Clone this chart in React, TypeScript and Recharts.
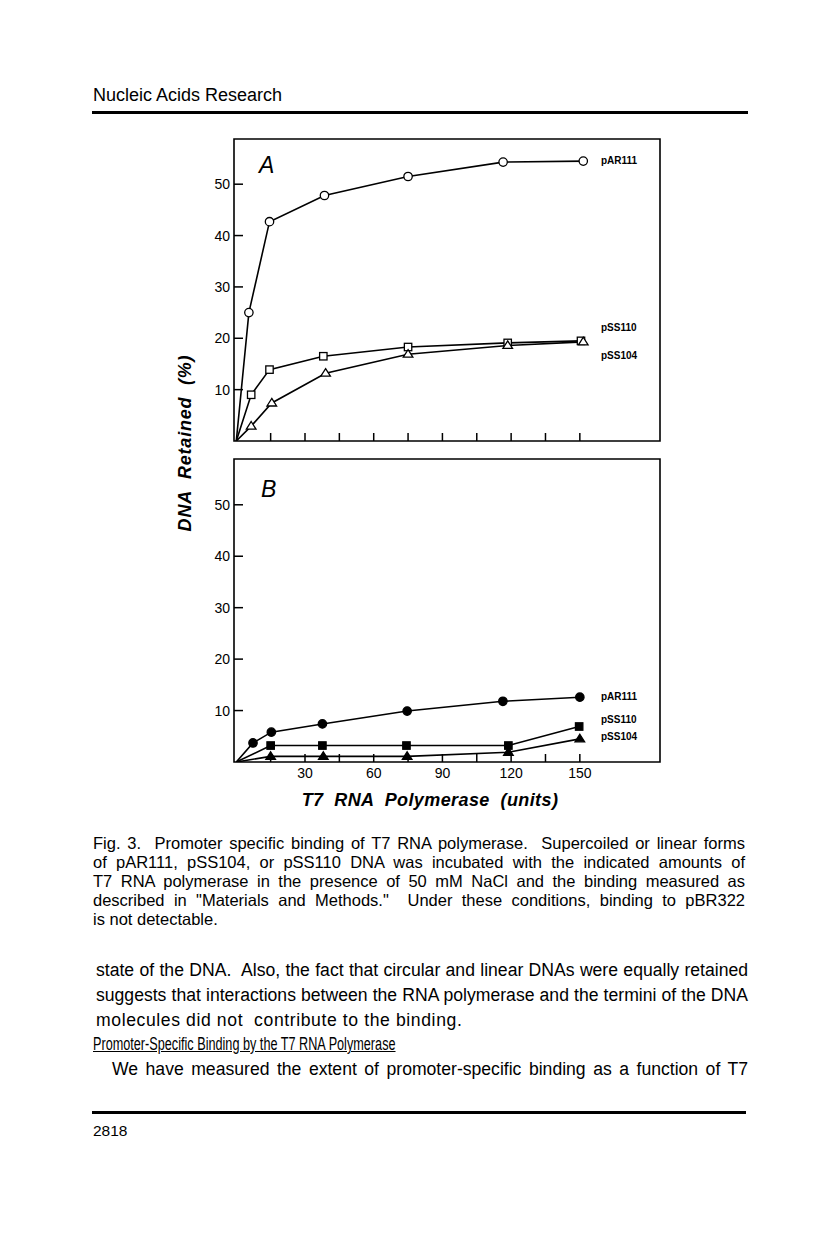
import React from "react";
import { LineChart, Line, XAxis, YAxis, ReferenceArea } from "recharts";

// Panel A: supercoiled DNA (open markers)
const aPAR111X = [0, 5.5, 14.5, 38.5, 75, 116.5, 151.5];
const aPAR111Y = [0, 25.0, 42.7, 47.8, 51.5, 54.3, 54.5];
const aPSS110X = [0, 6.5, 14.5, 38, 75, 118.5, 150.5];
const aPSS110Y = [0, 9.0, 13.9, 16.5, 18.3, 19.1, 19.5];
const aPSS104X = [0, 6.5, 15.5, 39, 75, 118.5, 151.5];
const aPSS104Y = [0, 2.9, 7.4, 13.2, 16.9, 18.6, 19.3];

// Panel B: linear DNA (filled markers)
const bPAR111X = [0, 7.3, 15.3, 37.6, 74.6, 116.4, 150];
const bPAR111Y = [0, 3.7, 5.8, 7.4, 9.9, 11.8, 12.6];
const bPSS110X = [0, 15, 37.6, 74.3, 118.8, 149.7];
const bPSS110Y = [0, 3.2, 3.2, 3.2, 3.2, 6.9];
const bPSS104X = [0, 15, 38, 74.6, 118.8, 150];
const bPSS104Y = [0, 1.1, 1.1, 1.1, 1.9, 4.5];

const xTicks = [15, 30, 45, 60, 75, 90, 105, 120, 135, 150];
const yTicks = [10, 20, 30, 40, 50];
const seriesNames = ["pAR111", "pSS110", "pSS104"];

const captionLines = [
  "Fig. 3.\u00a0 Promoter specific binding of T7 RNA polymerase.\u00a0 Supercoiled or linear forms",
  "of pAR111, pSS104, or pSS110 DNA was incubated with the indicated amounts of",
  "T7 RNA polymerase in the presence of 50 mM NaCl and the binding measured as",
  "described in \"Materials and Methods.\"\u00a0 Under these conditions, binding to pBR322",
  "is not detectable.",
];

const FONT = '"Liberation Sans", Arial, Helvetica, sans-serif';

const rows = (xs: number[], ys: number[]) => xs.map((x, i) => ({ x, y: ys[i] }));

const marker = (shape: string, filled: boolean) => (p: any) => {
  const { cx, cy, index } = p;
  const key = `m-${shape}-${index}`;
  if (index === 0 || cx == null || cy == null) return <g key={key} />;
  const fill = filled ? "#000" : "#fff";
  if (shape === "circle")
    return <circle key={key} cx={cx} cy={cy} r={4.2} fill={fill} stroke="#000" strokeWidth={1.3} />;
  if (shape === "square")
    return (
      <rect key={key} x={cx - 3.7} y={cy - 3.7} width={7.4} height={7.4} fill={fill} stroke="#000" strokeWidth={1.3} />
    );
  return (
    <polygon
      key={key}
      points={`${cx},${cy - 4.6} ${cx + 4.8},${cy + 3} ${cx - 4.8},${cy + 3}`}
      fill={fill}
      stroke="#000"
      strokeWidth={1.3}
    />
  );
};

const xTick = (labelled: boolean) => (p: any) => {
  const { x, y, payload } = p;
  return (
    <g>
      <line x1={x} x2={x} y1={y} y2={y - 8} stroke="#000" strokeWidth={1.5} />
      {labelled && payload.value % 30 === 0 && (
        <text x={x} y={y + 16} textAnchor="middle" fontSize={14} fontFamily={FONT} fill="#000">
          {payload.value}
        </text>
      )}
    </g>
  );
};

const yTick = (p: any) => {
  const { x, y, payload } = p;
  return (
    <g>
      <line x1={x} x2={x + 9} y1={y} y2={y} stroke="#000" strokeWidth={1.5} />
      <text x={x - 4} y={y + 5} textAnchor="end" fontSize={14} fontFamily={FONT} fill="#000">
        {payload.value}
      </text>
    </g>
  );
};

function Panel({
  top,
  height,
  margin,
  xHeight,
  yMax,
  labelled,
  filled,
  series,
}: {
  top: number;
  height: number;
  margin: any;
  xHeight: number;
  yMax: number;
  labelled: boolean;
  filled: boolean;
  series: { x: number[]; y: number[]; shape: string }[];
}) {
  return (
    <div style={{ position: "absolute", left: 0, top }}>
      <LineChart width={680} height={height} margin={margin}>
        <XAxis
          type="number"
          dataKey="x"
          domain={[-1, 185]}
          ticks={xTicks}
          height={xHeight}
          axisLine={false}
          tickLine={false}
          tickSize={0}
          tickMargin={0}
          tick={xTick(labelled)}
          interval={0}
          allowDataOverflow
        />
        <YAxis
          type="number"
          dataKey="y"
          domain={[0, yMax]}
          ticks={yTicks}
          width={60}
          axisLine={false}
          tickLine={false}
          tickSize={0}
          tickMargin={0}
          tick={yTick}
          interval={0}
          allowDataOverflow
        />
        <ReferenceArea x1={-1} x2={185} y1={0} y2={yMax} fill="none" stroke="#000" strokeWidth={1.6} />
        {series.map((s, i) => (
          <Line
            key={seriesNames[i]}
            name={seriesNames[i]}
            data={rows(s.x, s.y)}
            dataKey="y"
            type="linear"
            stroke="#000"
            strokeWidth={1.6}
            dot={marker(s.shape, filled)}
            activeDot={false}
            isAnimationActive={false}
          />
        ))}
      </LineChart>
    </div>
  );
}

const seriesLabel = (text: string, left: number, cy: number) => (
  <div
    key={`${text}-${cy}`}
    style={{
      position: "absolute",
      left,
      top: cy - 6,
      lineHeight: "12px",
      fontSize: 10,
      fontWeight: "bold",
      fontFamily: FONT,
    }}
  >
    {text}
  </div>
);

const abs = (top: number, left: number, extra: any = {}) => ({
  position: "absolute" as const,
  top,
  left,
  fontFamily: FONT,
  color: "#000",
  ...extra,
});

const bodyLine = { fontSize: 17.6, lineHeight: "24px" };

export default function App() {
  return (
    <div
      style={{
        position: "absolute",
        left: 0,
        top: 0,
        width: 816,
        height: 1236,
        background: "#fff",
        overflow: "hidden",
        fontFamily: FONT,
      }}
    >
      <div style={abs(84, 93, { fontSize: 18, lineHeight: "22px" })}>Nucleic Acids Research</div>
      <div style={abs(111, 92, { width: 656, height: 2.5, background: "#000" })} />

      <Panel
        top={120}
        height={330}
        margin={{ top: 19, right: 20, bottom: 4, left: 174 }}
        xHeight={5}
        yMax={58.8}
        labelled={false}
        filled={false}
        series={[
          { x: aPAR111X, y: aPAR111Y, shape: "circle" },
          { x: aPSS110X, y: aPSS110Y, shape: "square" },
          { x: aPSS104X, y: aPSS104Y, shape: "triangle" },
        ]}
      />
      <Panel
        top={450}
        height={350}
        margin={{ top: 9, right: 20, bottom: 14, left: 174 }}
        xHeight={24}
        yMax={58.9}
        labelled={true}
        filled={true}
        series={[
          { x: bPAR111X, y: bPAR111Y, shape: "circle" },
          { x: bPSS110X, y: bPSS110Y, shape: "square" },
          { x: bPSS104X, y: bPSS104Y, shape: "triangle" },
        ]}
      />

      <div style={abs(152, 259, { fontSize: 23, fontStyle: "italic", lineHeight: "26px" })}>A</div>
      <div style={abs(476, 261, { fontSize: 23, fontStyle: "italic", lineHeight: "26px" })}>B</div>

      {seriesLabel("pAR111", 601, 161)}
      {seriesLabel("pSS110", 601, 328)}
      {seriesLabel("pSS104", 601, 356)}
      {seriesLabel("pAR111", 601, 697)}
      {seriesLabel("pSS110", 601, 720)}
      {seriesLabel("pSS104", 601, 737)}

      <div
        style={abs(432, 55, {
          width: 260,
          height: 22,
          lineHeight: "22px",
          textAlign: "center",
          fontSize: 18,
          fontWeight: "bold",
          fontStyle: "italic",
          letterSpacing: 0.8,
          whiteSpace: "pre",
          transform: "rotate(-90deg)",
          transformOrigin: "130px 11px",
        })}
      >
        {"DNA  Retained  (%)"}
      </div>
      <div
        style={abs(789, 230, {
          width: 400,
          lineHeight: "22px",
          textAlign: "center",
          fontSize: 18,
          fontWeight: "bold",
          fontStyle: "italic",
          letterSpacing: 0.4,
          whiteSpace: "pre",
        })}
      >
        {"T7  RNA  Polymerase  (units)"}
      </div>

      {captionLines.map((line, i) => (
        <div
          key={i}
          style={abs(833.5 + i * 19, 93, {
            width: 652,
            fontSize: 16.5,
            lineHeight: "19px",
            textAlign: "justify",
            textAlignLast: i < captionLines.length - 1 ? "justify" : "left",
          })}
        >
          {line}
        </div>
      ))}

      <div style={abs(958, 96, { ...bodyLine, width: 652, textAlign: "justify", textAlignLast: "justify" })}>
        state of the DNA.{"\u00a0 "}Also, the fact that circular and linear DNAs were equally retained
      </div>
      <div style={abs(983, 96, { ...bodyLine, width: 652, textAlign: "justify", textAlignLast: "justify" })}>
        suggests that interactions between the RNA polymerase and the termini of the DNA
      </div>
      <div style={abs(1008, 96, { ...bodyLine, whiteSpace: "pre", letterSpacing: 0.6 })}>
        {"molecules did not  contribute to the binding."}
      </div>
      <div
        style={abs(1032, 93, {
          ...bodyLine,
          textDecoration: "underline",
          transform: "scaleX(0.72)",
          transformOrigin: "0 0",
          whiteSpace: "nowrap",
        })}
      >
        Promoter-Specific Binding by the T7 RNA Polymerase
      </div>
      <div style={abs(1057, 112, { ...bodyLine, width: 636, textAlign: "justify", textAlignLast: "justify" })}>
        We have measured the extent of promoter-specific binding as a function of T7
      </div>

      <div style={abs(1111, 92, { width: 654, height: 2.5, background: "#000" })} />
      <div style={abs(1121, 93, { fontSize: 15.5, lineHeight: "20px" })}>2818</div>
    </div>
  );
}
